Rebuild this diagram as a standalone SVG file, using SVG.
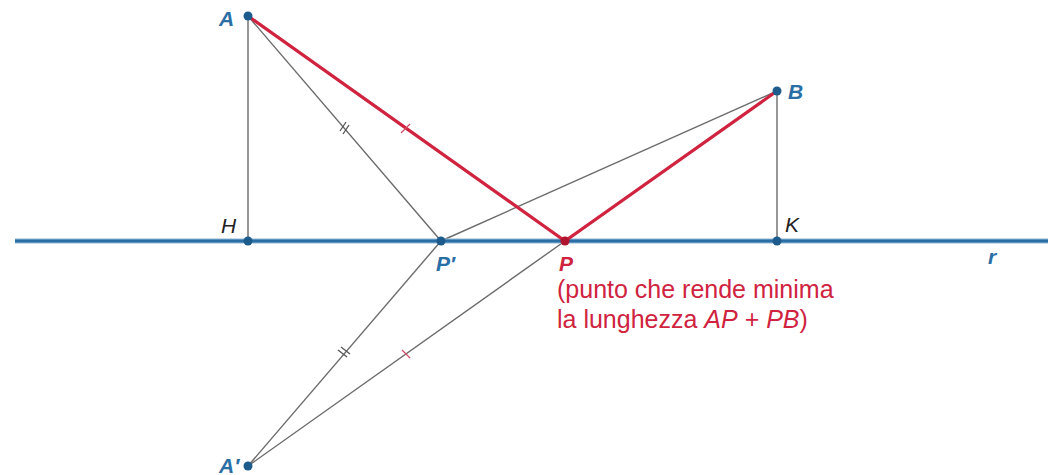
<svg xmlns="http://www.w3.org/2000/svg" width="1048" height="475" viewBox="0 0 1048 475">
<style>
.thin{stroke:#6b6b6b;stroke-width:1.4;fill:none}
.red{stroke:#d0233f;stroke-width:3.2;fill:none;stroke-linecap:round}
.tick{stroke:#555;stroke-width:1.3}
.tickr{stroke:#d0506a;stroke-width:1.3}
.dot{fill:#1d5b8c}
.lb{font-family:"Liberation Sans",Arial,sans-serif;font-style:italic;font-weight:bold;font-size:21px;fill:#2a6ea6}
.lk{font-family:"Liberation Sans",Arial,sans-serif;font-style:italic;font-size:21px;fill:#222}
.rt{font-family:"Liberation Sans",Arial,sans-serif;font-size:25px;fill:#d0233f}
</style>
<rect width="1048" height="475" fill="#fff"/>
<g id="connectors">
<line class="thin" x1="248" y1="16" x2="248" y2="241"/>
<line class="thin" x1="777" y1="91" x2="777" y2="241"/>
<line class="thin" x1="248" y1="16" x2="441" y2="241"/>
<line class="thin" x1="441" y1="241" x2="777" y2="91"/>
<line class="thin" x1="248" y1="466" x2="441" y2="241"/>
<line class="thin" x1="248" y1="466" x2="565" y2="241"/>
<line x1="15" y1="241" x2="1048" y2="241" stroke="#8fb6d6" stroke-width="5"/>
<line x1="15" y1="241" x2="1048" y2="241" stroke="#2b6ea5" stroke-width="3"/>
<polyline class="red" points="248,16 565,241 777,91"/>
<g id="ticks">
<line class="tick" x1="340" y1="131" x2="346" y2="122"/>
<line class="tick" x1="343" y1="134" x2="349" y2="125"/>
<line class="tickr" x1="401" y1="133" x2="410" y2="124"/>
<line class="tick" x1="338" y1="350" x2="347" y2="357"/>
<line class="tick" x1="341" y1="347" x2="350" y2="354"/>
<line class="tickr" x1="402" y1="350" x2="410" y2="358"/>
</g>
</g>
<g id="A"><circle class="dot" cx="248" cy="16" r="4.5"/><text class="lb" x="219" y="26">A</text></g>
<g id="B"><circle class="dot" cx="777" cy="91" r="4.5"/><text class="lb" x="788" y="99">B</text></g>
<g id="H"><circle class="dot" cx="248" cy="241" r="4.5"/><text class="lk" x="221" y="233">H</text></g>
<g id="K"><circle class="dot" cx="777" cy="241" r="4.5"/><text class="lk" x="785" y="232">K</text></g>
<g id="Pp"><circle class="dot" cx="441" cy="241" r="4.5"/><text class="lb" x="436" y="271">P′</text></g>
<g id="P"><circle cx="565" cy="241" r="4.5" fill="#b0142e"/><text class="lb" x="559" y="271" style="fill:#d0233f">P</text></g>
<g id="Ap"><circle class="dot" cx="248" cy="466" r="4.5"/><text class="lb" x="219" y="473">A′</text></g>
<g id="r"><text class="lb" x="988" y="264">r</text></g>
<g id="note">
<text class="rt" x="557" y="298">(punto che rende minima</text>
<text class="rt" x="557" y="328">la lunghezza <tspan font-style="italic">AP</tspan> + <tspan font-style="italic">PB</tspan>)</text>
</g>
</svg>
